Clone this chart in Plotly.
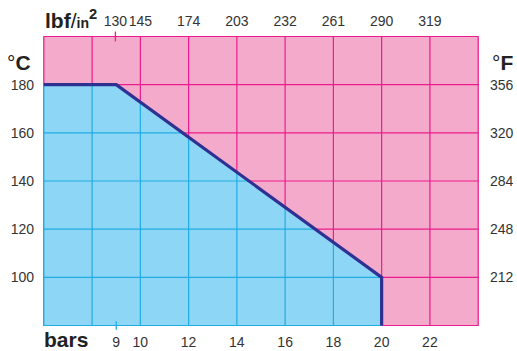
import numpy as np
import plotly.graph_objects as go

# ---- data ----
bar_ticks = [9, 10, 12, 14, 16, 18, 20, 22]
psi_ticks = [130, 145, 174, 203, 232, 261, 290, 319]
c_ticks = [100, 120, 140, 160, 180]
f_ticks = [212, 248, 284, 320, 356]
grid_bar = [6, 8, 10, 12, 14, 16, 18, 20, 22, 24]
grid_c = [80, 100, 120, 140, 160, 180, 200]
boundary_bar = [6, 9, 20, 20]
boundary_c = [180, 180, 100, 80]

BAR_TO_PSI = 14.5
PINK = "#F4AACB"
MAGENTA = "#EC1C8E"
BLUE = "#8DD6F6"
BLUE_GRID = "#22ACE6"
NAVY = "#2E3192"
FONT = "Liberation Sans, Arial, sans-serif"

xmin, xmax = grid_bar[0], grid_bar[-1]
ymin, ymax = grid_c[0], grid_c[-1]

fig = go.Figure()

# magenta grid (full)
gx, gy = [], []
for xv in grid_bar:
    gx += [xv, xv, None]
    gy += [ymin, ymax, None]
for yv in grid_c:
    gx += [xmin, xmax, None]
    gy += [yv, yv, None]
fig.add_trace(go.Scatter(x=gx, y=gy, mode="lines", line=dict(color=MAGENTA, width=1.2),
                         hoverinfo="skip", showlegend=False))

# blue region
fig.add_trace(go.Scatter(x=boundary_bar + [boundary_bar[0]], y=boundary_c + [ymin, boundary_c[0]],
                         mode="lines", fill="toself", fillcolor=BLUE, line=dict(width=0),
                         hoverinfo="skip", showlegend=False))

# blue grid inside region
slope_c = boundary_c[1:3][::-1]
slope_b = boundary_bar[1:3][::-1]
bx, by = [], []
for xv in grid_bar:
    if xv < boundary_bar[2]:
        top = float(np.interp(xv, boundary_bar[:3], boundary_c[:3]))
        bx += [xv, xv, None]
        by += [ymin, top, None]
for yv in grid_c:
    if yv <= boundary_c[0]:
        right = float(np.interp(yv, slope_c, slope_b)) if yv >= boundary_c[2] else boundary_bar[2]
        bx += [xmin, right, None]
        by += [yv, yv, None]
fig.add_trace(go.Scatter(x=bx, y=by, mode="lines", line=dict(color=BLUE_GRID, width=1.2),
                         hoverinfo="skip", showlegend=False))

# boundary
fig.add_trace(go.Scatter(x=boundary_bar, y=boundary_c, mode="lines",
                         line=dict(color=NAVY, width=3.2), hoverinfo="skip", showlegend=False))

# small tick marks
fig.add_trace(go.Scatter(x=[9], y=[ymin], mode="markers", cliponaxis=False,
                         marker=dict(symbol="line-ns", size=6, line=dict(color=BLUE_GRID, width=1.3)),
                         hoverinfo="skip", showlegend=False))
fig.add_trace(go.Scatter(x=[psi_ticks[0]], y=[ymax * 1.8 + 32], xaxis="x2", yaxis="y2",
                         mode="markers", cliponaxis=False,
                         marker=dict(symbol="line-ns", size=7, line=dict(color=MAGENTA, width=1.3)),
                         hoverinfo="skip", showlegend=False))

px = 0.035
py = 0.2
tickfont = dict(family=FONT, size=14, color="#333333")
common = dict(showgrid=False, zeroline=False, showline=False, ticks="", tickfont=tickfont,
              automargin=False, tickangle=0)
fig.update_layout(
    width=517, height=351,
    margin=dict(l=43, r=38, t=36, b=25),
    paper_bgcolor="white", plot_bgcolor=PINK,
    xaxis=dict(range=[xmin - px, xmax + px], tickvals=bar_ticks, ticklabelstandoff=6, **common),
    yaxis=dict(range=[ymin - py, ymax + py], tickvals=c_ticks, ticklabelstandoff=8, **common),
    xaxis2=dict(range=[(xmin - px) * BAR_TO_PSI, (xmax + px) * BAR_TO_PSI], tickvals=psi_ticks,
                overlaying="x", side="top", ticklabelstandoff=6, **common),
    yaxis2=dict(range=[(ymin - py) * 1.8 + 32, (ymax + py) * 1.8 + 32], tickvals=f_ticks,
                overlaying="y", side="right", ticklabelstandoff=10, **common),
    annotations=[
        dict(text="<b>lbf</b>/<span style='font-size:14px'><b>in</b></span><sup><b>2</b></sup>",
             xref="paper", yref="paper", x=0, y=1.06, xanchor="left", yanchor="middle",
             showarrow=False, font=dict(family=FONT, size=21, color="#222222")),
        dict(text="°<b>C</b>", xref="paper", yref="paper", x=-0.022, y=0.91,
             xanchor="right", yanchor="middle", showarrow=False,
             font=dict(family=FONT, size=21, color="#222222")),
        dict(text="°<b>F</b>", xref="paper", yref="paper", x=1.025, y=0.91,
             xanchor="left", yanchor="middle", showarrow=False,
             font=dict(family=FONT, size=21, color="#222222")),
        dict(text="<b>bars</b>", xref="paper", yref="paper", x=-0.002, y=-0.048,
             xanchor="left", yanchor="middle", showarrow=False,
             font=dict(family=FONT, size=21, color="#222222")),
    ],
)

fig.write_html("out.html", config={"displayModeBar": False},
               post_script="document.body.style.margin='0';")
